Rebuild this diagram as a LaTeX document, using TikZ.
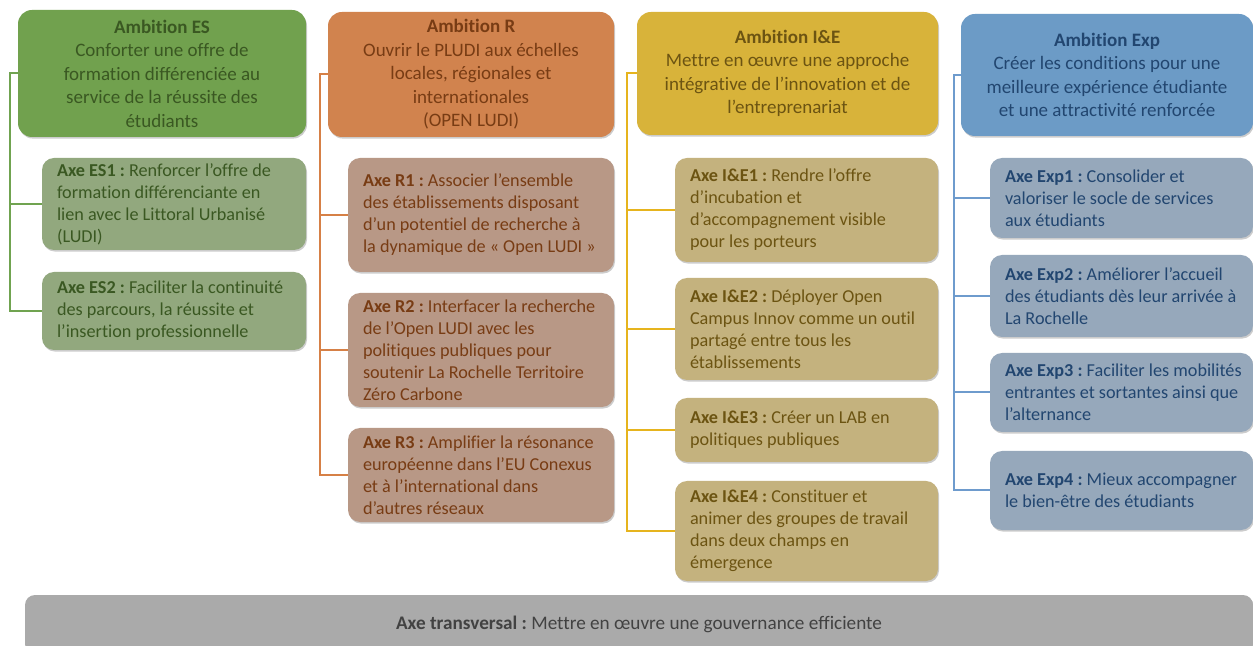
\documentclass[tikz,border=0pt]{standalone}
\usepackage{fontspec}
\setmainfont{Carlito}[Ligatures=CommonOff]
\usetikzlibrary{shadows}
\definecolor{esAmb}{RGB}{113,161,78}
\definecolor{esAxe}{RGB}{146,168,126}
\definecolor{esTxt}{RGB}{58,88,34}
\definecolor{esLine}{RGB}{112,163,80}
\definecolor{rAmb}{RGB}{209,131,78}
\definecolor{rAxe}{RGB}{184,152,134}
\definecolor{rTxt}{RGB}{120,60,20}
\definecolor{rLine}{RGB}{214,128,70}
\definecolor{ieAmb}{RGB}{216,179,58}
\definecolor{ieAxe}{RGB}{196,178,126}
\definecolor{ieTxt}{RGB}{108,84,18}
\definecolor{ieLine}{RGB}{230,180,30}
\definecolor{exAmb}{RGB}{108,155,198}
\definecolor{exAxe}{RGB}{150,168,187}
\definecolor{exTxt}{RGB}{34,70,112}
\definecolor{exLine}{RGB}{110,155,205}
\definecolor{barFill}{RGB}{170,170,170}
\definecolor{barTxt}{RGB}{66,66,66}
\tikzset{
  boxbase/.style={rounded corners=6pt, inner sep=0pt,
    drop shadow={shadow xshift=0.5pt, shadow yshift=-0.8pt, opacity=0.2, fill=black}},
  ambstyle/.style={boxbase, rounded corners=7pt, align=center, font=\fontsize{9.5}{11.75}\selectfont},
  axestyle/.style={boxbase},
  axetext/.style={anchor=west, inner sep=0pt, align=left, font=\fontsize{9.1}{11}\selectfont},
  conn/.style={line width=1pt},
}
% name, x1, y1, x2, y2, style, text
\newcommand{\ambbox}[7]{%
  \pgfmathsetmacro{\mybw}{(#4-#2)*0.5}%
  \pgfmathsetmacro{\mybh}{(#5-#3)*0.5}%
  \pgfmathsetmacro{\mycx}{(#2+#4)/2}%
  \pgfmathsetmacro{\mycy}{(#3+#5)/2}%
  \node[ambstyle, #6, minimum width=\mybw pt, minimum height=\mybh pt] (#1) at (\mycx,\mycy) {#7};%
}
% name, x1, y1, x2, y2, fill colour, text colour, text
\newcommand{\axebox}[8]{%
  \pgfmathsetmacro{\mybw}{(#4-#2)*0.5}%
  \pgfmathsetmacro{\mybh}{(#5-#3)*0.5}%
  \pgfmathsetmacro{\mycx}{(#2+#4)/2}%
  \pgfmathsetmacro{\mycy}{(#3+#5)/2}%
  \node[axestyle, fill=#6, minimum width=\mybw pt, minimum height=\mybh pt] (#1) at (\mycx,\mycy) {};%
  \node[axetext, text=#7] (#1t) at ([xshift=7.5pt]#1.west) {#8};%
}
\begin{document}
\frenchspacing
\begin{tikzpicture}[x=0.5pt,y=-0.5pt]
\useasboundingbox (0,0) rectangle (1253,646);
\fill[white] (0,0) rectangle (1253,646);

% ---------- Column ES ----------
\ambbox{aES}{18}{10}{306}{137}{fill=esAmb, text=esTxt}{\textbf{Ambition ES}\\Conforter une offre de\\formation différenciée au\\service de la réussite des\\étudiants}
\axebox{es1}{42}{158}{306}{250}{esAxe}{esTxt}{\textbf{Axe ES1 :} Renforcer l’offre de\\formation différenciante en\\lien avec le Littoral Urbanisé\\(LUDI)}
\axebox{es2}{42}{272}{306}{350}{esAxe}{esTxt}{\textbf{Axe ES2 :} Faciliter la continuité\\des parcours, la réussite et\\l’insertion professionnelle}
\coordinate (esT) at ([xshift=-4pt]aES.west);
\draw[conn, esLine] (aES.west) -- (esT) |- (es2.west);
\draw[conn, esLine] (esT) |- (es1.west);

% ---------- Column R ----------
\ambbox{aR}{328}{12}{614}{137}{fill=rAmb, text=rTxt}{\textbf{Ambition R}\\Ouvrir le PLUDI aux échelles\\locales, régionales et\\internationales\\(OPEN LUDI)}
\axebox{r1}{348}{158}{614}{272}{rAxe}{rTxt}{\textbf{Axe R1 :} Associer l’ensemble\\des établissements disposant\\d’un potentiel de recherche à\\la dynamique de « Open LUDI »}
\axebox{r2}{348}{293}{614}{407}{rAxe}{rTxt}{\textbf{Axe R2 :} Interfacer la recherche\\de l’Open LUDI avec les\\politiques publiques pour\\soutenir La Rochelle Territoire\\Zéro Carbone}
\axebox{r3}{348}{428}{614}{522}{rAxe}{rTxt}{\textbf{Axe R3 :} Amplifier la résonance\\européenne dans l’EU Conexus\\et à l’international dans\\d’autres réseaux}
\coordinate (rT) at ([xshift=-4pt]aR.west);
\draw[conn, rLine] (aR.west) -- (rT) |- (r3.west);
\draw[conn, rLine] (rT) |- (r1.west);
\draw[conn, rLine] (rT) |- (r2.west);

% ---------- Column I&E ----------
\ambbox{aIE}{637}{12}{938}{135}{fill=ieAmb, text=ieTxt}{\textbf{Ambition I\&E}\\Mettre en œuvre une approche\\intégrative de l’innovation et de\\l’entreprenariat}
\axebox{ie1}{675}{158}{938}{262}{ieAxe}{ieTxt}{\textbf{Axe I\&E1 :} Rendre l’offre\\d’incubation et\\d’accompagnement visible\\pour les porteurs}
\axebox{ie2}{675}{278}{938}{380}{ieAxe}{ieTxt}{\textbf{Axe I\&E2 :} Déployer Open\\Campus Innov comme un outil\\partagé entre tous les\\établissements}
\axebox{ie3}{675}{398}{938}{462}{ieAxe}{ieTxt}{\textbf{Axe I\&E3 :} Créer un LAB en\\politiques publiques}
\axebox{ie4}{675}{481}{938}{581}{ieAxe}{ieTxt}{\textbf{Axe I\&E4 :} Constituer et\\animer des groupes de travail\\dans deux champs en\\émergence}
\coordinate (ieT) at ([xshift=-5pt]aIE.west);
\draw[conn, ieLine] (aIE.west) -- (ieT) |- (ie4.west);
\draw[conn, ieLine] (ieT) |- (ie1.west);
\draw[conn, ieLine] (ieT) |- (ie2.west);
\draw[conn, ieLine] (ieT) |- (ie3.west);

% ---------- Column Exp ----------
\ambbox{aEx}{961}{14}{1253}{136}{fill=exAmb, text=exTxt}{\textbf{Ambition Exp}\\Créer les conditions pour une\\meilleure expérience étudiante\\et une attractivité renforcée}
\axebox{ex1}{990}{158}{1253}{238}{exAxe}{exTxt}{\textbf{Axe Exp1 :} Consolider et\\valoriser le socle de services\\aux étudiants}
\axebox{ex2}{990}{255}{1253}{337}{exAxe}{exTxt}{\textbf{Axe Exp2 :} Améliorer l’accueil\\des étudiants dès leur arrivée à\\La Rochelle}
\axebox{ex3}{990}{353}{1253}{432}{exAxe}{exTxt}{\textbf{Axe Exp3 :} Faciliter les mobilités\\entrantes et sortantes ainsi que\\l’alternance}
\axebox{ex4}{990}{451}{1253}{530}{exAxe}{exTxt}{\textbf{Axe Exp4 :} Mieux accompagner\\le bien-être des étudiants}
\coordinate (exT) at ([xshift=-3.5pt]aEx.west);
\draw[conn, exLine] (aEx.west) -- (exT) |- (ex4.west);
\draw[conn, exLine] (exT) |- (ex1.west);
\draw[conn, exLine] (exT) |- (ex2.west);
\draw[conn, exLine] (exT) |- (ex3.west);

% ---------- Bottom bar ----------
\ambbox{bar}{25}{595}{1253}{654}{rounded corners=5pt, fill=barFill, text=barTxt, font=\fontsize{9.6}{11}\selectfont}{\textbf{Axe transversal :} Mettre en œuvre une gouvernance efficiente}
\end{tikzpicture}
\end{document}
